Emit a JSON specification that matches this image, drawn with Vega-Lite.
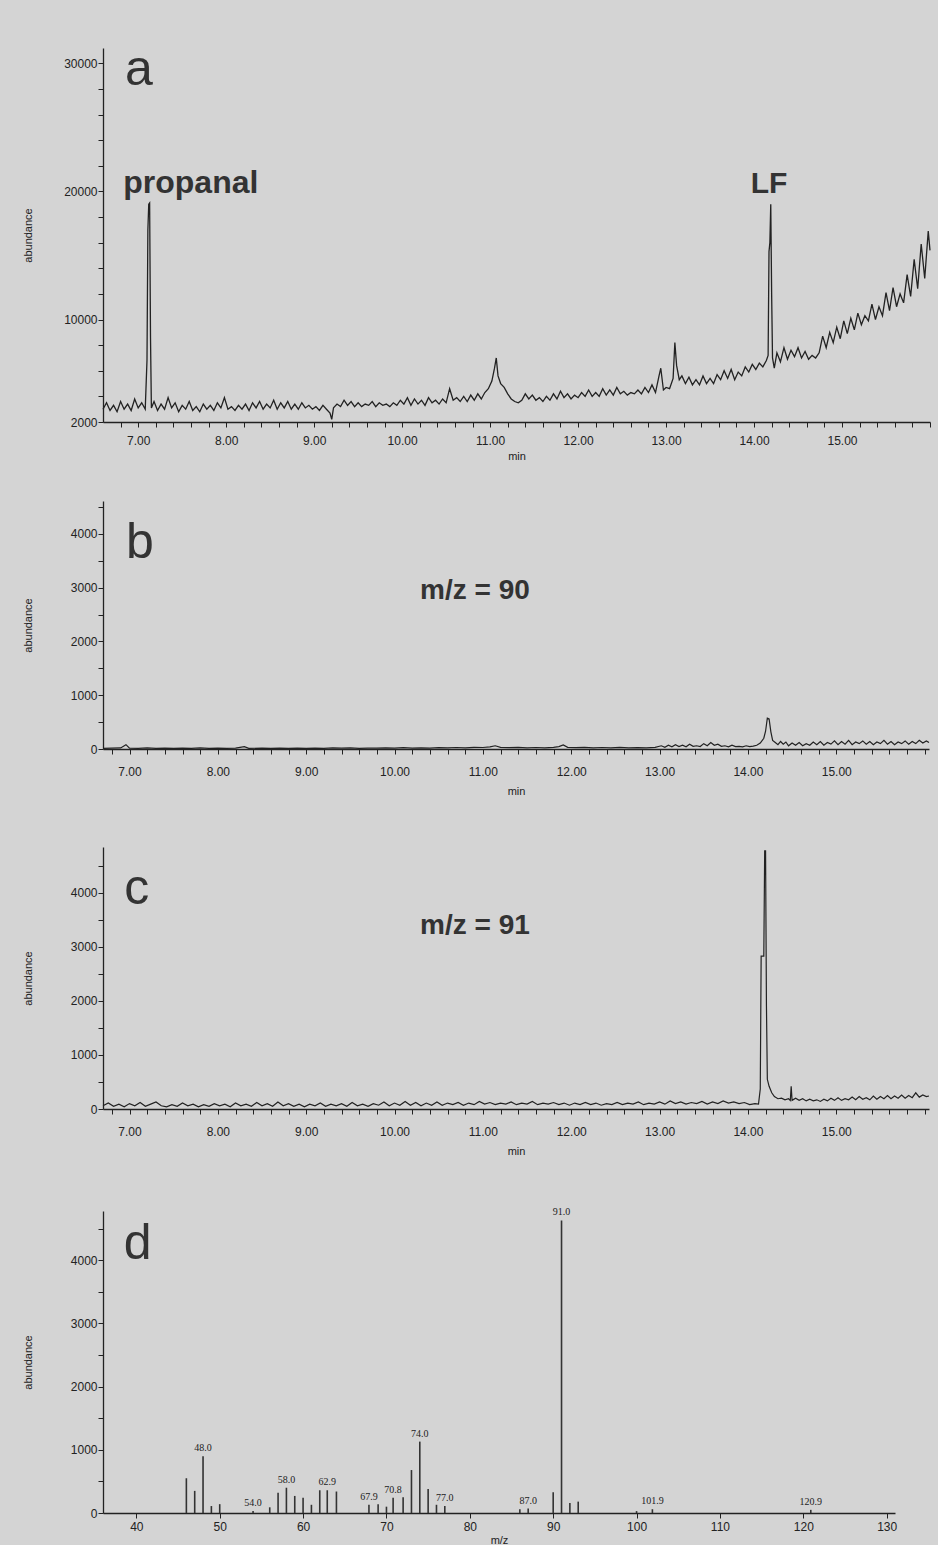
{
  "$schema": "https://vega.github.io/schema/vega-lite/v6.json",
  "background": "#d4d4d4",
  "padding": {"top": 45, "left": 22, "right": 5, "bottom": 0},
  "config": {
    "view": {"stroke": null},
    "font": "Liberation Sans",
    "axis": {"domainColor": "#222", "domainWidth": 1.3, "tickColor": "#222", "tickWidth": 1, "tickSize": 5, "labelColor": "#222", "labelFont": "Liberation Sans", "labelFontSize": 12, "titleColor": "#222", "titleFont": "Liberation Sans", "titleFontSize": 11, "titleFontWeight": "normal", "grid": false, "labelFlush": false, "labelOverlap": false},
    "axisY": {"titleX": -70, "labelPadding": 1},
    "concat": {"spacing": 39},
    "title": {"color": "#d4d4d4"}
  },
  "datasets": {
    "a": [
      {"t":6.60,"v":3000},{"t":6.64,"v":3500},{"t":6.68,"v":2900},{"t":6.72,"v":3300},{"t":6.76,"v":2800},{"t":6.80,"v":3600},{"t":6.84,"v":3000},{"t":6.88,"v":3400},{"t":6.92,"v":2900},{"t":6.96,"v":3800},{"t":7.00,"v":3100},{"t":7.04,"v":3500},{"t":7.08,"v":3000},{"t":7.10,"v":6800},{"t":7.11,"v":17000},{"t":7.12,"v":19000},{"t":7.13,"v":19100},{"t":7.14,"v":8600},{"t":7.15,"v":3100},{"t":7.18,"v":3600},{"t":7.22,"v":2900},{"t":7.26,"v":3400},{"t":7.30,"v":3000},{"t":7.34,"v":3900},{"t":7.38,"v":3100},{"t":7.42,"v":3500},{"t":7.46,"v":2800},{"t":7.50,"v":3300},{"t":7.54,"v":3000},{"t":7.58,"v":3600},{"t":7.62,"v":2900},{"t":7.66,"v":3200},{"t":7.70,"v":2800},{"t":7.74,"v":3400},{"t":7.78,"v":3000},{"t":7.82,"v":3300},{"t":7.86,"v":2900},{"t":7.90,"v":3500},{"t":7.94,"v":3100},{"t":7.98,"v":3900},{"t":8.02,"v":3000},{"t":8.06,"v":3200},{"t":8.10,"v":2900},{"t":8.14,"v":3300},{"t":8.18,"v":3000},{"t":8.22,"v":3400},{"t":8.26,"v":2900},{"t":8.30,"v":3500},{"t":8.34,"v":3100},{"t":8.38,"v":3600},{"t":8.42,"v":3000},{"t":8.46,"v":3400},{"t":8.50,"v":3100},{"t":8.54,"v":3700},{"t":8.58,"v":3000},{"t":8.62,"v":3500},{"t":8.66,"v":3100},{"t":8.70,"v":3600},{"t":8.74,"v":3000},{"t":8.78,"v":3400},{"t":8.82,"v":3000},{"t":8.86,"v":3500},{"t":8.90,"v":3100},{"t":8.94,"v":3300},{"t":8.98,"v":3000},{"t":9.02,"v":3200},{"t":9.06,"v":2900},{"t":9.10,"v":3300},{"t":9.14,"v":3000},{"t":9.18,"v":2700},{"t":9.20,"v":2200},{"t":9.22,"v":3100},{"t":9.26,"v":3400},{"t":9.30,"v":3200},{"t":9.34,"v":3700},{"t":9.38,"v":3300},{"t":9.42,"v":3600},{"t":9.46,"v":3200},{"t":9.50,"v":3500},{"t":9.54,"v":3200},{"t":9.58,"v":3400},{"t":9.62,"v":3300},{"t":9.66,"v":3600},{"t":9.70,"v":3200},{"t":9.74,"v":3500},{"t":9.78,"v":3300},{"t":9.82,"v":3400},{"t":9.86,"v":3200},{"t":9.90,"v":3500},{"t":9.94,"v":3300},{"t":9.98,"v":3700},{"t":10.02,"v":3400},{"t":10.06,"v":3900},{"t":10.10,"v":3300},{"t":10.14,"v":3800},{"t":10.18,"v":3400},{"t":10.22,"v":3700},{"t":10.26,"v":3300},{"t":10.30,"v":3900},{"t":10.34,"v":3500},{"t":10.38,"v":3700},{"t":10.42,"v":3400},{"t":10.46,"v":3800},{"t":10.50,"v":3500},{"t":10.54,"v":4600},{"t":10.58,"v":3700},{"t":10.62,"v":3900},{"t":10.66,"v":3600},{"t":10.70,"v":4000},{"t":10.74,"v":3600},{"t":10.78,"v":4100},{"t":10.82,"v":3700},{"t":10.86,"v":4200},{"t":10.90,"v":3800},{"t":10.94,"v":4300},{"t":10.98,"v":4600},{"t":11.02,"v":5200},{"t":11.05,"v":6200},{"t":11.07,"v":7000},{"t":11.09,"v":5600},{"t":11.12,"v":5000},{"t":11.16,"v":4700},{"t":11.20,"v":4200},{"t":11.24,"v":3800},{"t":11.28,"v":3600},{"t":11.32,"v":3500},{"t":11.36,"v":3700},{"t":11.40,"v":4200},{"t":11.44,"v":3800},{"t":11.48,"v":4100},{"t":11.52,"v":3700},{"t":11.56,"v":3900},{"t":11.60,"v":3600},{"t":11.64,"v":4000},{"t":11.68,"v":3700},{"t":11.72,"v":4200},{"t":11.76,"v":3800},{"t":11.80,"v":4400},{"t":11.84,"v":3900},{"t":11.88,"v":4200},{"t":11.92,"v":3800},{"t":11.96,"v":4100},{"t":12.00,"v":3900},{"t":12.04,"v":4300},{"t":12.08,"v":4000},{"t":12.12,"v":4500},{"t":12.16,"v":4000},{"t":12.20,"v":4300},{"t":12.24,"v":4000},{"t":12.28,"v":4600},{"t":12.32,"v":4100},{"t":12.36,"v":4500},{"t":12.40,"v":4100},{"t":12.44,"v":4700},{"t":12.48,"v":4200},{"t":12.52,"v":4400},{"t":12.56,"v":4100},{"t":12.60,"v":4300},{"t":12.64,"v":4200},{"t":12.68,"v":4500},{"t":12.72,"v":4200},{"t":12.76,"v":4700},{"t":12.80,"v":4300},{"t":12.84,"v":4900},{"t":12.88,"v":4300},{"t":12.92,"v":5600},{"t":12.94,"v":6200},{"t":12.97,"v":4500},{"t":13.00,"v":4700},{"t":13.04,"v":4600},{"t":13.08,"v":5400},{"t":13.10,"v":8200},{"t":13.12,"v":6400},{"t":13.15,"v":5300},{"t":13.18,"v":5600},{"t":13.22,"v":5000},{"t":13.26,"v":5500},{"t":13.30,"v":4900},{"t":13.34,"v":5300},{"t":13.38,"v":4900},{"t":13.42,"v":5600},{"t":13.46,"v":5000},{"t":13.50,"v":5400},{"t":13.54,"v":5000},{"t":13.58,"v":5700},{"t":13.62,"v":5300},{"t":13.66,"v":6000},{"t":13.70,"v":5400},{"t":13.74,"v":6100},{"t":13.78,"v":5300},{"t":13.82,"v":5900},{"t":13.86,"v":5600},{"t":13.90,"v":6300},{"t":13.94,"v":5900},{"t":13.98,"v":6500},{"t":14.02,"v":6100},{"t":14.06,"v":6600},{"t":14.10,"v":6300},{"t":14.14,"v":6800},{"t":14.16,"v":7200},{"t":14.17,"v":15300},{"t":14.18,"v":16000},{"t":14.19,"v":19000},{"t":14.20,"v":12000},{"t":14.21,"v":7000},{"t":14.23,"v":6200},{"t":14.26,"v":7400},{"t":14.30,"v":6700},{"t":14.34,"v":7800},{"t":14.38,"v":6900},{"t":14.42,"v":7600},{"t":14.46,"v":7100},{"t":14.50,"v":7800},{"t":14.54,"v":7000},{"t":14.58,"v":7500},{"t":14.62,"v":6900},{"t":14.66,"v":7200},{"t":14.70,"v":7000},{"t":14.74,"v":7400},{"t":14.78,"v":8700},{"t":14.82,"v":7800},{"t":14.86,"v":9000},{"t":14.90,"v":8200},{"t":14.94,"v":9400},{"t":14.98,"v":8500},{"t":15.02,"v":9900},{"t":15.06,"v":8900},{"t":15.10,"v":10100},{"t":15.14,"v":9200},{"t":15.18,"v":10500},{"t":15.22,"v":9600},{"t":15.26,"v":10300},{"t":15.30,"v":9900},{"t":15.34,"v":11200},{"t":15.38,"v":10000},{"t":15.42,"v":11000},{"t":15.46,"v":10300},{"t":15.50,"v":12100},{"t":15.54,"v":10700},{"t":15.58,"v":12500},{"t":15.62,"v":11000},{"t":15.66,"v":12000},{"t":15.70,"v":11300},{"t":15.74,"v":13500},{"t":15.78,"v":11800},{"t":15.82,"v":14700},{"t":15.86,"v":12400},{"t":15.90,"v":15900},{"t":15.94,"v":13200},{"t":15.98,"v":16900},{"t":16.00,"v":15400}
    ],
    "b": [
      {"t":6.70,"v":10},{"t":6.80,"v":15},{"t":6.90,"v":20},{"t":6.96,"v":80},{"t":7.00,"v":15},{"t":7.10,"v":10},{"t":7.20,"v":20},{"t":7.30,"v":12},{"t":7.40,"v":18},{"t":7.50,"v":10},{"t":7.60,"v":15},{"t":7.70,"v":12},{"t":7.80,"v":20},{"t":7.90,"v":10},{"t":8.00,"v":15},{"t":8.10,"v":12},{"t":8.20,"v":18},{"t":8.30,"v":45},{"t":8.35,"v":12},{"t":8.50,"v":15},{"t":8.60,"v":10},{"t":8.70,"v":18},{"t":8.80,"v":12},{"t":8.90,"v":15},{"t":9.00,"v":10},{"t":9.10,"v":18},{"t":9.20,"v":12},{"t":9.30,"v":20},{"t":9.40,"v":15},{"t":9.50,"v":22},{"t":9.60,"v":12},{"t":9.70,"v":18},{"t":9.80,"v":15},{"t":9.90,"v":20},{"t":10.00,"v":18},{"t":10.10,"v":25},{"t":10.20,"v":15},{"t":10.30,"v":22},{"t":10.40,"v":18},{"t":10.50,"v":25},{"t":10.60,"v":20},{"t":10.70,"v":28},{"t":10.80,"v":22},{"t":10.90,"v":30},{"t":11.00,"v":28},{"t":11.08,"v":40},{"t":11.14,"v":60},{"t":11.20,"v":30},{"t":11.30,"v":25},{"t":11.40,"v":30},{"t":11.50,"v":22},{"t":11.60,"v":28},{"t":11.70,"v":20},{"t":11.80,"v":30},{"t":11.86,"v":45},{"t":11.91,"v":75},{"t":11.96,"v":30},{"t":12.05,"v":25},{"t":12.15,"v":30},{"t":12.25,"v":20},{"t":12.35,"v":28},{"t":12.45,"v":22},{"t":12.55,"v":30},{"t":12.65,"v":20},{"t":12.75,"v":25},{"t":12.85,"v":20},{"t":12.95,"v":30},{"t":13.02,"v":60},{"t":13.06,"v":30},{"t":13.10,"v":70},{"t":13.14,"v":40},{"t":13.18,"v":80},{"t":13.22,"v":45},{"t":13.26,"v":70},{"t":13.30,"v":40},{"t":13.34,"v":90},{"t":13.38,"v":50},{"t":13.42,"v":60},{"t":13.46,"v":45},{"t":13.50,"v":100},{"t":13.54,"v":60},{"t":13.58,"v":120},{"t":13.62,"v":70},{"t":13.66,"v":90},{"t":13.70,"v":50},{"t":13.74,"v":60},{"t":13.78,"v":40},{"t":13.82,"v":70},{"t":13.86,"v":45},{"t":13.90,"v":50},{"t":13.94,"v":40},{"t":13.98,"v":60},{"t":14.02,"v":45},{"t":14.06,"v":55},{"t":14.10,"v":70},{"t":14.14,"v":110},{"t":14.18,"v":200},{"t":14.20,"v":330},{"t":14.22,"v":574},{"t":14.24,"v":560},{"t":14.26,"v":320},{"t":14.28,"v":160},{"t":14.31,"v":120},{"t":14.34,"v":80},{"t":14.37,"v":140},{"t":14.40,"v":90},{"t":14.43,"v":130},{"t":14.46,"v":60},{"t":14.50,"v":110},{"t":14.54,"v":70},{"t":14.58,"v":120},{"t":14.62,"v":60},{"t":14.66,"v":100},{"t":14.70,"v":70},{"t":14.74,"v":130},{"t":14.78,"v":80},{"t":14.82,"v":140},{"t":14.86,"v":70},{"t":14.90,"v":120},{"t":14.94,"v":90},{"t":14.98,"v":150},{"t":15.02,"v":80},{"t":15.06,"v":140},{"t":15.10,"v":90},{"t":15.14,"v":160},{"t":15.18,"v":80},{"t":15.22,"v":130},{"t":15.26,"v":100},{"t":15.30,"v":150},{"t":15.34,"v":90},{"t":15.38,"v":140},{"t":15.42,"v":80},{"t":15.46,"v":130},{"t":15.50,"v":100},{"t":15.54,"v":160},{"t":15.58,"v":90},{"t":15.62,"v":140},{"t":15.66,"v":80},{"t":15.70,"v":130},{"t":15.74,"v":100},{"t":15.78,"v":150},{"t":15.82,"v":90},{"t":15.86,"v":140},{"t":15.90,"v":100},{"t":15.94,"v":160},{"t":15.98,"v":110},{"t":16.02,"v":150},{"t":16.05,"v":120}
    ],
    "c": [
      {"t":6.70,"v":60},{"t":6.76,"v":110},{"t":6.82,"v":50},{"t":6.88,"v":90},{"t":6.94,"v":40},{"t":7.00,"v":100},{"t":7.06,"v":60},{"t":7.12,"v":120},{"t":7.18,"v":50},{"t":7.24,"v":90},{"t":7.30,"v":130},{"t":7.36,"v":60},{"t":7.42,"v":40},{"t":7.48,"v":80},{"t":7.54,"v":50},{"t":7.60,"v":110},{"t":7.66,"v":60},{"t":7.72,"v":90},{"t":7.78,"v":40},{"t":7.84,"v":80},{"t":7.90,"v":50},{"t":7.96,"v":100},{"t":8.02,"v":60},{"t":8.08,"v":90},{"t":8.14,"v":40},{"t":8.20,"v":110},{"t":8.26,"v":60},{"t":8.32,"v":90},{"t":8.38,"v":50},{"t":8.44,"v":120},{"t":8.50,"v":60},{"t":8.56,"v":100},{"t":8.62,"v":50},{"t":8.68,"v":130},{"t":8.74,"v":60},{"t":8.80,"v":100},{"t":8.86,"v":50},{"t":8.92,"v":90},{"t":8.98,"v":40},{"t":9.04,"v":90},{"t":9.10,"v":60},{"t":9.16,"v":110},{"t":9.22,"v":50},{"t":9.28,"v":90},{"t":9.34,"v":60},{"t":9.40,"v":100},{"t":9.46,"v":50},{"t":9.52,"v":120},{"t":9.58,"v":60},{"t":9.64,"v":90},{"t":9.70,"v":50},{"t":9.76,"v":100},{"t":9.82,"v":70},{"t":9.88,"v":130},{"t":9.94,"v":60},{"t":10.00,"v":110},{"t":10.06,"v":70},{"t":10.12,"v":140},{"t":10.18,"v":70},{"t":10.24,"v":120},{"t":10.30,"v":60},{"t":10.36,"v":110},{"t":10.42,"v":70},{"t":10.48,"v":130},{"t":10.54,"v":70},{"t":10.60,"v":110},{"t":10.66,"v":80},{"t":10.72,"v":120},{"t":10.78,"v":70},{"t":10.84,"v":110},{"t":10.90,"v":80},{"t":10.96,"v":140},{"t":11.02,"v":90},{"t":11.08,"v":120},{"t":11.14,"v":80},{"t":11.20,"v":110},{"t":11.26,"v":90},{"t":11.32,"v":130},{"t":11.38,"v":80},{"t":11.44,"v":110},{"t":11.50,"v":90},{"t":11.56,"v":140},{"t":11.62,"v":80},{"t":11.68,"v":110},{"t":11.74,"v":90},{"t":11.80,"v":120},{"t":11.86,"v":80},{"t":11.92,"v":110},{"t":11.98,"v":70},{"t":12.04,"v":110},{"t":12.10,"v":80},{"t":12.16,"v":120},{"t":12.22,"v":80},{"t":12.28,"v":110},{"t":12.34,"v":70},{"t":12.40,"v":100},{"t":12.46,"v":80},{"t":12.52,"v":120},{"t":12.58,"v":80},{"t":12.64,"v":110},{"t":12.70,"v":90},{"t":12.76,"v":130},{"t":12.82,"v":80},{"t":12.88,"v":110},{"t":12.94,"v":90},{"t":13.00,"v":130},{"t":13.06,"v":90},{"t":13.12,"v":150},{"t":13.18,"v":100},{"t":13.24,"v":130},{"t":13.30,"v":90},{"t":13.36,"v":120},{"t":13.42,"v":100},{"t":13.48,"v":140},{"t":13.54,"v":90},{"t":13.60,"v":130},{"t":13.66,"v":100},{"t":13.72,"v":150},{"t":13.78,"v":110},{"t":13.84,"v":130},{"t":13.90,"v":100},{"t":13.96,"v":120},{"t":14.02,"v":80},{"t":14.08,"v":100},{"t":14.12,"v":90},{"t":14.14,"v":370},{"t":14.15,"v":2830},{"t":14.18,"v":2830},{"t":14.19,"v":4780},{"t":14.20,"v":4780},{"t":14.21,"v":1900},{"t":14.22,"v":550},{"t":14.24,"v":420},{"t":14.27,"v":300},{"t":14.30,"v":230},{"t":14.34,"v":190},{"t":14.38,"v":200},{"t":14.42,"v":170},{"t":14.46,"v":190},{"t":14.48,"v":160},{"t":14.49,"v":420},{"t":14.50,"v":160},{"t":14.54,"v":200},{"t":14.58,"v":160},{"t":14.62,"v":190},{"t":14.66,"v":150},{"t":14.70,"v":180},{"t":14.74,"v":150},{"t":14.78,"v":170},{"t":14.82,"v":140},{"t":14.86,"v":180},{"t":14.90,"v":150},{"t":14.94,"v":200},{"t":14.98,"v":160},{"t":15.02,"v":210},{"t":15.06,"v":160},{"t":15.10,"v":190},{"t":15.14,"v":170},{"t":15.18,"v":220},{"t":15.22,"v":170},{"t":15.26,"v":230},{"t":15.30,"v":180},{"t":15.34,"v":210},{"t":15.38,"v":170},{"t":15.42,"v":240},{"t":15.46,"v":180},{"t":15.50,"v":230},{"t":15.54,"v":190},{"t":15.58,"v":250},{"t":15.62,"v":190},{"t":15.66,"v":240},{"t":15.70,"v":200},{"t":15.74,"v":260},{"t":15.78,"v":200},{"t":15.82,"v":250},{"t":15.86,"v":210},{"t":15.90,"v":300},{"t":15.94,"v":220},{"t":15.98,"v":260},{"t":16.02,"v":230},{"t":16.05,"v":240}
    ],
    "d": [
      {"mz":46,"v":550},{"mz":47,"v":350},{"mz":48,"v":900,"label":"48.0"},{"mz":49,"v":110},{"mz":50,"v":140},{"mz":54,"v":30,"label":"54.0"},{"mz":56,"v":90},{"mz":57,"v":320},{"mz":58,"v":400,"label":"58.0"},{"mz":59,"v":270},{"mz":60,"v":240},{"mz":61,"v":130},{"mz":62,"v":360},{"mz":62.9,"v":360,"label":"62.9"},{"mz":64,"v":340},{"mz":67.9,"v":130,"label":"67.9"},{"mz":69,"v":140},{"mz":70,"v":100},{"mz":70.8,"v":240,"label":"70.8"},{"mz":72,"v":250},{"mz":73,"v":680},{"mz":74,"v":1130,"label":"74.0"},{"mz":75,"v":380},{"mz":76,"v":130},{"mz":77,"v":110,"label":"77.0"},{"mz":86,"v":60},{"mz":87,"v":70,"label":"87.0"},{"mz":90,"v":330},{"mz":91,"v":4630,"label":"91.0"},{"mz":92,"v":160},{"mz":93,"v":180},{"mz":100,"v":30},{"mz":101.9,"v":60,"label":"101.9"},{"mz":120.9,"v":50,"label":"120.9"}
    ]
  },
  "vconcat": [
    {
      "width": 827,
      "height": 374,
      "layer": [
        {
          "data": {"name": "a"},
          "mark": {"type": "line", "color": "#222", "strokeWidth": 1.3},
          "encoding": {
            "x": {"field": "t", "type": "quantitative", "scale": {"domain": [6.6, 16.0], "nice": false, "zero": false},
              "axis": {"title": "min", "format": ".2f", "tickCount": 1000, "values": [6.8,7.0,7.2,7.4,7.6,7.8,8.0,8.2,8.4,8.6,8.8,9.0,9.2,9.4,9.6,9.8,10.0,10.2,10.4,10.6,10.8,11.0,11.2,11.4,11.6,11.8,12.0,12.2,12.4,12.6,12.8,13.0,13.2,13.4,13.6,13.8,14.0,14.2,14.4,14.6,14.8,15.0,15.2,15.4,15.6,15.8,16.0],
                "labelExpr": "abs(datum.value - round(datum.value)) < 0.001 && datum.value < 15.5 ? datum.label : ''", "labelPadding": 8, "titlePadding": 4}},
            "y": {"field": "v", "type": "quantitative", "scale": {"domain": [2000, 31200], "nice": false, "zero": false},
              "axis": {"title": "abundance", "format": "d", "tickCount": 1000, "values": [2000,4000,6000,8000,10000,12000,14000,16000,18000,20000,22000,24000,26000,28000,30000],
                "labelExpr": "indexof([2000,10000,20000,30000], datum.value) >= 0 ? datum.label : ''"}}
          }
        },
        {
          "data": {"values": [{"t": 6.85, "v": 28310, "txt": "a"}]},
          "mark": {"type": "text", "fontSize": 50, "align": "left", "baseline": "alphabetic", "color": "#333"},
          "encoding": {"x": {"field": "t", "type": "quantitative"}, "y": {"field": "v", "type": "quantitative"}, "text": {"field": "txt"}}
        },
        {
          "data": {"values": [{"t": 6.83, "v": 19880, "txt": "propanal"}]},
          "mark": {"type": "text", "fontSize": 32, "fontWeight": "bold", "align": "left", "baseline": "alphabetic", "color": "#333"},
          "encoding": {"x": {"field": "t", "type": "quantitative"}, "y": {"field": "v", "type": "quantitative"}, "text": {"field": "txt"}}
        },
        {
          "data": {"values": [{"t": 14.17, "v": 19880, "txt": "LF"}]},
          "mark": {"type": "text", "fontSize": 30, "fontWeight": "bold", "align": "center", "baseline": "alphabetic", "color": "#333"},
          "encoding": {"x": {"field": "t", "type": "quantitative"}, "y": {"field": "v", "type": "quantitative"}, "text": {"field": "txt"}}
        }
      ]
    },
    {
      "width": 826,
      "height": 248,
      "layer": [
        {
          "data": {"name": "b"},
          "mark": {"type": "line", "color": "#222", "strokeWidth": 1.2},
          "encoding": {
            "x": {"field": "t", "type": "quantitative", "scale": {"domain": [6.7, 16.05], "nice": false, "zero": false},
              "axis": {"title": "min", "format": ".2f", "tickCount": 1000, "values": [6.8,7.0,7.2,7.4,7.6,7.8,8.0,8.2,8.4,8.6,8.8,9.0,9.2,9.4,9.6,9.8,10.0,10.2,10.4,10.6,10.8,11.0,11.2,11.4,11.6,11.8,12.0,12.2,12.4,12.6,12.8,13.0,13.2,13.4,13.6,13.8,14.0,14.2,14.4,14.6,14.8,15.0,15.2,15.4,15.6,15.8,16.0],
                "labelExpr": "abs(datum.value - round(datum.value)) < 0.001 && datum.value < 15.5 ? datum.label : ''", "labelPadding": 12, "titlePadding": 8}},
            "y": {"field": "v", "type": "quantitative", "scale": {"domain": [0, 4610], "nice": false},
              "axis": {"title": "abundance", "format": "d", "tickCount": 1000, "values": [0,500,1000,1500,2000,2500,3000,3500,4000,4500],
                "labelExpr": "datum.value % 1000 == 0 ? datum.label : ''"}}
          }
        },
        {
          "data": {"values": [{"t": 6.96, "v": 3550, "txt": "b"}]},
          "mark": {"type": "text", "fontSize": 50, "align": "left", "baseline": "alphabetic", "color": "#333"},
          "encoding": {"x": {"field": "t", "type": "quantitative"}, "y": {"field": "v", "type": "quantitative"}, "text": {"field": "txt"}}
        },
        {
          "data": {"values": [{"t": 10.91, "v": 2780, "txt": "m/z = 90"}]},
          "mark": {"type": "text", "fontSize": 28, "fontWeight": "bold", "align": "center", "baseline": "alphabetic", "color": "#333"},
          "encoding": {"x": {"field": "t", "type": "quantitative"}, "y": {"field": "v", "type": "quantitative"}, "text": {"field": "txt"}}
        }
      ]
    },
    {
      "width": 826,
      "height": 262,
      "title": {"text": " ", "fontSize": 8, "offset": 4},
      "layer": [
        {
          "data": {"name": "c"},
          "mark": {"type": "line", "color": "#222", "strokeWidth": 1.2},
          "encoding": {
            "x": {"field": "t", "type": "quantitative", "scale": {"domain": [6.7, 16.05], "nice": false, "zero": false},
              "axis": {"title": "min", "format": ".2f", "tickCount": 1000, "values": [6.8,7.0,7.2,7.4,7.6,7.8,8.0,8.2,8.4,8.6,8.8,9.0,9.2,9.4,9.6,9.8,10.0,10.2,10.4,10.6,10.8,11.0,11.2,11.4,11.6,11.8,12.0,12.2,12.4,12.6,12.8,13.0,13.2,13.4,13.6,13.8,14.0,14.2,14.4,14.6,14.8,15.0,15.2,15.4,15.6,15.8,16.0],
                "labelExpr": "abs(datum.value - round(datum.value)) < 0.001 && datum.value < 15.5 ? datum.label : ''", "labelPadding": 12, "titlePadding": 8}},
            "y": {"field": "v", "type": "quantitative", "scale": {"domain": [0, 4850], "nice": false},
              "axis": {"title": "abundance", "format": "d", "tickCount": 1000, "values": [0,500,1000,1500,2000,2500,3000,3500,4000,4500],
                "labelExpr": "datum.value % 1000 == 0 ? datum.label : ''"}}
          }
        },
        {
          "data": {"values": [{"t": 6.94, "v": 3790, "txt": "c"}]},
          "mark": {"type": "text", "fontSize": 50, "align": "left", "baseline": "alphabetic", "color": "#333"},
          "encoding": {"x": {"field": "t", "type": "quantitative"}, "y": {"field": "v", "type": "quantitative"}, "text": {"field": "txt"}}
        },
        {
          "data": {"values": [{"t": 10.91, "v": 3240, "txt": "m/z = 91"}]},
          "mark": {"type": "text", "fontSize": 28, "fontWeight": "bold", "align": "center", "baseline": "alphabetic", "color": "#333"},
          "encoding": {"x": {"field": "t", "type": "quantitative"}, "y": {"field": "v", "type": "quantitative"}, "text": {"field": "txt"}}
        }
      ]
    },
    {
      "width": 792,
      "height": 302,
      "title": {"text": " ", "fontSize": 8, "offset": 4},
      "layer": [
        {
          "data": {"name": "d"},
          "mark": {"type": "rule", "color": "#333", "strokeWidth": 1.6},
          "encoding": {
            "x": {"field": "mz", "type": "quantitative", "scale": {"domain": [36, 131], "nice": false, "zero": false},
              "axis": {"title": "m/z", "format": "d", "tickCount": 1000, "values": [40,50,60,70,80,90,100,110,120,130], "labelPadding": 3, "titlePadding": 2}},
            "y": {"field": "v", "type": "quantitative", "scale": {"domain": [0, 4780], "nice": false},
              "axis": {"title": "abundance", "format": "d", "tickCount": 1000, "values": [0,500,1000,1500,2000,2500,3000,3500,4000,4500],
                "labelExpr": "datum.value % 1000 == 0 ? datum.label : ''"}},
            "y2": {"datum": 0}
          }
        },
        {
          "data": {"name": "d"},
          "transform": [{"filter": "isValid(datum.label)"}],
          "mark": {"type": "text", "font": "Liberation Serif", "fontSize": 10, "align": "center", "baseline": "alphabetic", "dy": -5, "color": "#222"},
          "encoding": {"x": {"field": "mz", "type": "quantitative"}, "y": {"field": "v", "type": "quantitative"}, "text": {"field": "label"}}
        },
        {
          "data": {"values": [{"mz": 38.5, "v": 4025, "txt": "d"}]},
          "mark": {"type": "text", "fontSize": 50, "align": "left", "baseline": "alphabetic", "color": "#333"},
          "encoding": {"x": {"field": "mz", "type": "quantitative"}, "y": {"field": "v", "type": "quantitative"}, "text": {"field": "txt"}}
        }
      ]
    }
  ]
}
